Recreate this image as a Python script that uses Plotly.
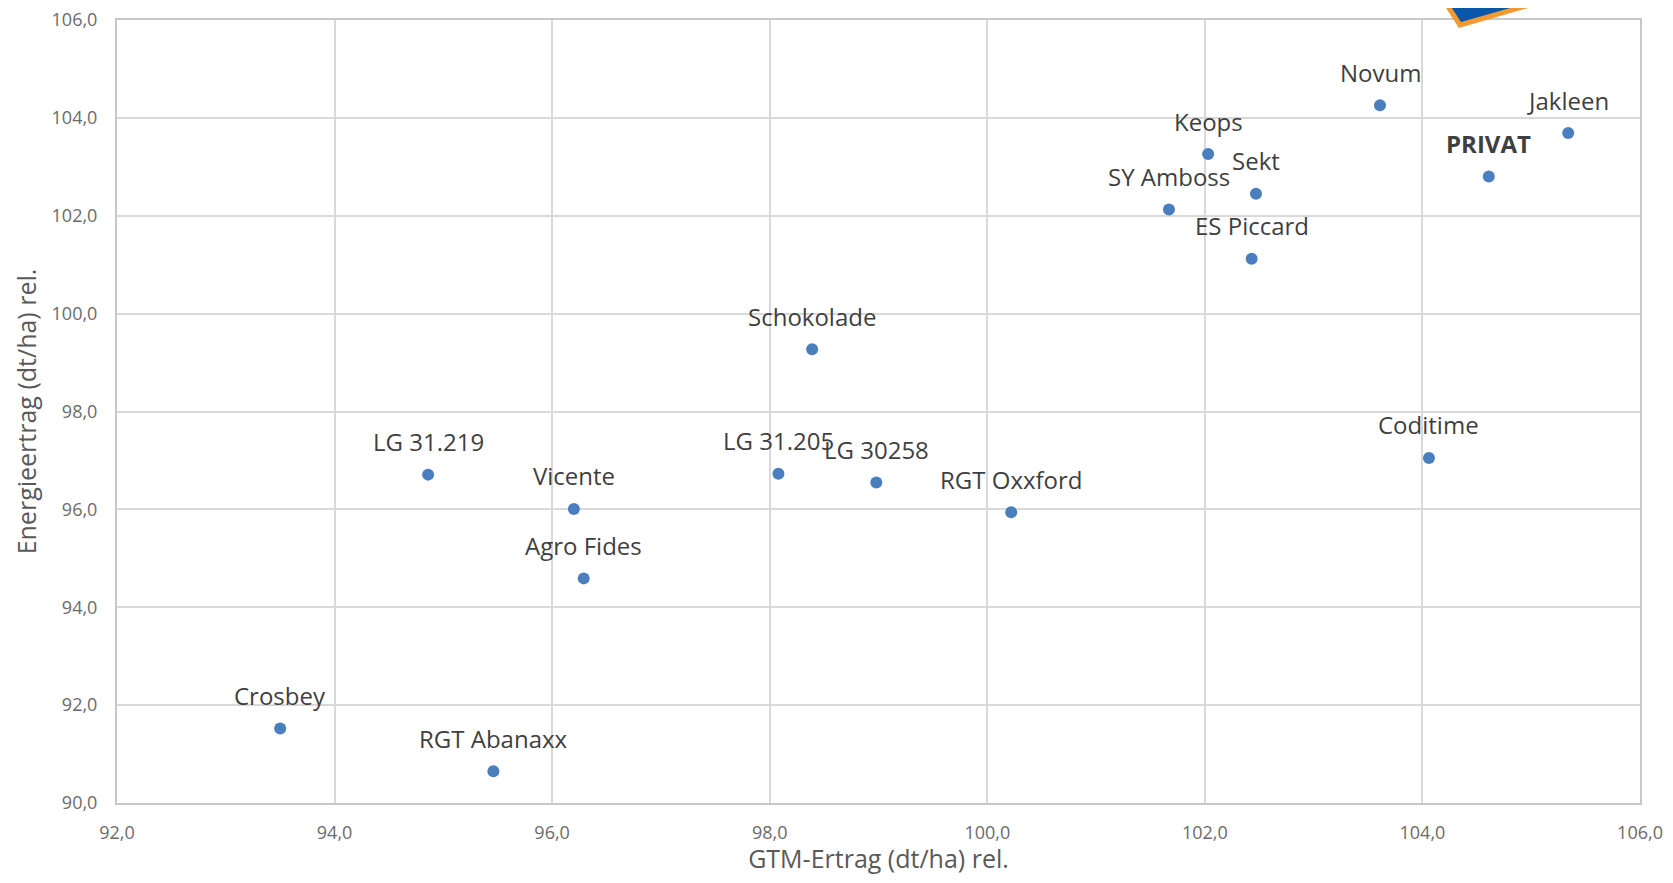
import plotly.graph_objects as go

# Sorten, GTM-Ertrag rel. (x) und Energieertrag rel. (y)
sorten = ["Crosbey", "RGT Abanaxx", "LG 31.219", "Vicente", "Agro Fides", "LG 31.205",
          "LG 30258", "RGT Oxxford", "Schokolade", "Coditime", "SY Amboss", "Keops",
          "Sekt", "ES Piccard", "Novum", "PRIVAT", "Jakleen"]
gtm_ertrag = [93.50, 95.46, 94.86, 96.20, 96.29, 98.08,
              98.98, 100.22, 98.39, 104.06, 101.67, 102.03,
              102.47, 102.43, 103.61, 104.61, 105.34]
energie_ertrag = [91.52, 90.65, 96.71, 96.01, 94.59, 96.73,
                  96.55, 95.94, 99.27, 97.05, 102.13, 103.26,
                  102.45, 101.12, 104.26, 102.80, 103.69]
fett = ["PRIVAT"]

# Seite hat 8px body-margin -> Figur etwas kleiner
W, H = 1657, 867
L, R, T, B = 109, 25, 12, 72
FONT = "Open Sans"

fig = go.Figure()
fig.add_trace(go.Scatter(x=gtm_ertrag, y=energie_ertrag, mode="markers",
                         marker=dict(size=12, color="#4a7ebf"),
                         hoverinfo="text", text=sorten, showlegend=False))

# Datenbeschriftungen oberhalb der Punkte
for name, x, y in zip(sorten, gtm_ertrag, energie_ertrag):
    txt = f"<b>{name}</b>" if name in fett else name
    fig.add_annotation(x=x, y=y, text=txt, showarrow=False, yshift=33,
                       xanchor="center", yanchor="middle",
                       font=dict(family=FONT, size=24, color="#3f3f3f"))


# Deko-Ecke oben rechts (blau mit orangem Rand), Pixel (Fensterkoordinaten) -> paper
def px2paper(px, py):
    px, py = px - 8, py - 8
    return (px - L) / (W - L - R), (H - B - py) / (H - T - B)


pts = [(1436, -12), (1460, 25), (1533, 4), (1610, 0), (1690, -6), (1690, -12)]
path = ""
for i, (px, py) in enumerate(pts):
    xp, yp = px2paper(px, py)
    path += ("M" if i == 0 else " L") + f" {xp:.4f},{yp:.4f}"
path += " Z"
fig.add_shape(type="path", path=path, xref="paper", yref="paper",
              fillcolor="#0a56a8", line=dict(color="#f29a32", width=5), layer="above")

axis_common = dict(showgrid=True, gridcolor="#d9d9d9", gridwidth=2,
                   showline=True, linecolor="#c8c8c8", linewidth=2, mirror=True,
                   zeroline=False, ticks="", tickformat=".1f", dtick=2,
                   ticklabeloverflow="allow",
                   tickfont=dict(family=FONT, size=18, color="#6b6b6b"),
                   title_font=dict(family=FONT, size=25, color="#595959"))

fig.update_layout(width=W, height=H,
                  margin=dict(l=L, r=R, t=T, b=B, autoexpand=False),
                  paper_bgcolor="white", plot_bgcolor="white",
                  separators=",.",
                  xaxis=dict(range=[92, 106], title_text="GTM-Ertrag (dt/ha) rel.",
                             title_standoff=16, ticklabelstandoff=12, **axis_common),
                  yaxis=dict(range=[90, 106], title_text="Energieertrag (dt/ha) rel.",
                             title_standoff=8, ticklabelstandoff=14, **axis_common))

fig.write_html("out.html")
